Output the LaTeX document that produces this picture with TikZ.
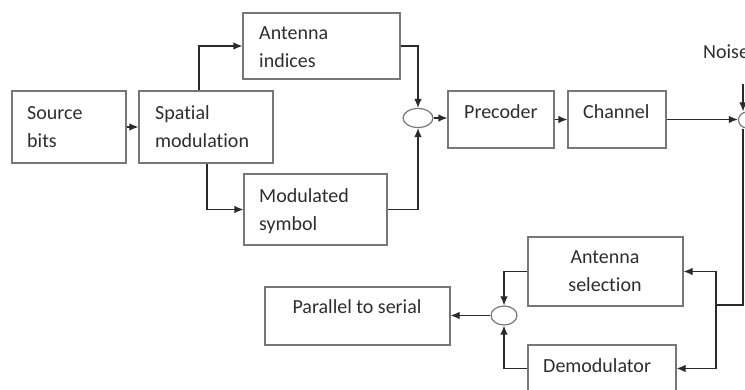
\documentclass[tikz,border=0pt]{standalone}
\usepackage{fontspec}
\setmainfont{Carlito}[Ligatures=NoCommon]
\usetikzlibrary{arrows.meta,shapes.geometric}
\definecolor{boxc}{HTML}{777777}
\definecolor{linec}{HTML}{2A2A2A}
\definecolor{txtc}{HTML}{2E2E2E}
\begin{document}
\begin{tikzpicture}[x=1pt,y=-1pt,
  box/.style={draw=boxc, line width=1.2pt, rectangle, inner sep=0pt},
  oval/.style={draw=boxc, line width=1.2pt, ellipse, inner sep=0pt},
  lbl/.style={inner sep=0pt, text=txtc, font=\fontsize{20}{28}\selectfont, align=left, anchor=north west},
  lblc/.style={lbl, align=center, anchor=north},
  conn/.style={draw=linec, line width=1.2pt},
  arr/.style={conn, -{Latex[length=9pt,width=7.5pt]}}
]
\path[use as bounding box, clip] (0,0) rectangle (745,390);
\fill[white] (0,0) rectangle (745,390);

% boxes
\node[box, minimum width=114pt, minimum height=72pt] (src) at (69,127) {};
\node[box, minimum width=134pt, minimum height=72pt] (sm) at (206,127) {};
\node[box, minimum width=157pt, minimum height=66pt] (ai) at (321.5,46) {};
\node[box, minimum width=143pt, minimum height=71pt] (ms) at (315.5,209.5) {};
\node[box, minimum width=106pt, minimum height=57pt] (pre) at (501,119.5) {};
\node[box, minimum width=98pt, minimum height=57pt] (ch) at (617,119.5) {};
\node[box, minimum width=155pt, minimum height=69pt] (as) at (605.5,271.5) {};
\node[box, minimum width=185pt, minimum height=58pt] (p2s) at (357.5,316) {};
\node[box, minimum width=148pt, minimum height=47pt] (dm) at (602,368.5) {};

% combiners
\node[oval, minimum width=30pt, minimum height=19pt] (txo) at (418,118) {};
\node[oval, minimum width=26pt, minimum height=19pt] (rxo) at (504,315.5) {};
\node[oval, minimum width=17pt, minimum height=16pt] (add) at (747,120) {};

% texts
\node[lbl] (srcT) at (27,99.4) {\strut Source\\\strut bits};
\node[lbl] (smT) at (155,99.4) {\strut Spatial\\\strut modulation};
\node[lbl] (aiT) at (259,19.4) {\strut Antenna\\\strut indices};
\node[lbl] (msT) at (259,182.4) {\strut Modulated\\\strut symbol};
\node[lbl] (preT) at (464,98.4) {\strut Precoder};
\node[lbl] (chT) at (583,98.4) {\strut Channel};
\node[lblc] (asT) at (605,243.4) {\strut Antenna\\\strut selection};
\node[lblc] (p2sT) at (357,293.4) {\strut Parallel to serial};
\node[lbl] (dmT) at (543,352.4) {\strut Demodulator};
\node[lbl] (nzT) at (703,38.4) {\strut Noise};

% connectors
\coordinate (nz) at (743,84);
\coordinate (jn) at (716,305);
\draw[arr] (src.east) -- (sm.west);
\draw[arr] ([xshift=-7pt]sm.north) |- (ai.west);
\draw[arr] ([xshift=1pt]sm.south) |- (ms.west);
\draw[arr] (ai.east) -| (txo.north);
\draw[arr] (ms.east) -| (txo.south);
\draw[arr] (txo.east) -- (txo.east -| pre.west);
\draw[arr] (pre.east) -- (ch.west);
\draw[arr] (ch.east) -- (ch.east -| add.west);
\draw[arr] (nz) -- (nz |- add.north);
\draw[conn] (nz |- add.south) |- (jn);
\draw[arr] (jn) |- (as.east);
\draw[arr] (jn) |- (dm.east);
\draw[arr] (as.west) -| (rxo.north);
\draw[arr] (dm.west) -| (rxo.south);
\draw[arr] (rxo.west) -- (rxo.west -| p2s.east);
\end{tikzpicture}
\end{document}
